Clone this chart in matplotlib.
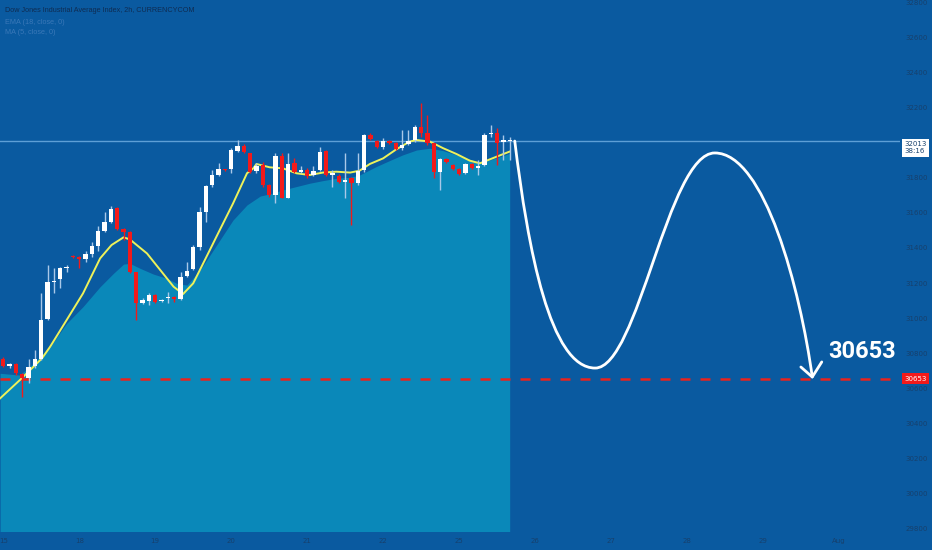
import matplotlib
matplotlib.use("Agg")
import matplotlib.pyplot as plt
from matplotlib.path import Path
from matplotlib.patches import PathPatch
import matplotlib.transforms as mtransforms
import numpy as np

# 2h candles (open, high, low, close)
opens = [30763, 30727, 30737, 30680, 30659, 30725, 30764, 30992, 31205, 31221,
         31288, 31354, 31347, 31335, 31364, 31411, 31497, 31550, 31627, 31508,
         31493, 31261, 31087, 31097, 31131, 31097, 31112, 31122, 31108, 31240,
         31278, 31404, 31608, 31760, 31817, 31849, 31849, 31957, 31985, 31941,
         31840, 31874, 31760, 31703, 31926, 31688, 31884, 31836, 31846, 31817,
         31846, 31956, 31815, 31813, 31779, 31798, 31770, 31846, 32046, 32013,
         31975, 32013, 32002, 31970, 31994, 32017, 32090, 32059, 31998, 31836,
         31909, 31874, 31850, 31827, 31880, 31855, 31874, 32049, 32055, 32008,
         32010]
highs = [30779, 30745, 30745, 30687, 30764, 30817, 31141, 31303, 31284, 31293,
         31303, 31360, 31354, 31385, 31436, 31526, 31608, 31640, 31632, 31512,
         31497, 31265, 31112, 31141, 31137, 31108, 31147, 31127, 31265, 31322,
         31417, 31636, 31760, 31846, 31884, 31853, 31970, 32017, 31994, 31945,
         31884, 31893, 31766, 31941, 31941, 31945, 31912, 31869, 31855, 31869,
         31975, 31960, 31846, 31823, 31941, 31808, 31941, 32052, 32055, 32017,
         32027, 32017, 32008, 32074, 32074, 32103, 32227, 32160, 32002, 31913,
         31913, 31880, 31855, 31884, 31888, 31903, 32055, 32103, 32084, 32046,
         32036]
lows = [30718, 30712, 30674, 30550, 30626, 30712, 30760, 30988, 31141, 31169,
        31265, 31341, 31284, 31322, 31350, 31385, 31493, 31541, 31503, 31446,
        31255, 30988, 31080, 31074, 31084, 31091, 31084, 31093, 31103, 31232,
        31274, 31389, 31550, 31750, 31811, 31842, 31827, 31950, 31941, 31830,
        31827, 31750, 31693, 31659, 31684, 31684, 31827, 31831, 31798, 31812,
        31842, 31812, 31751, 31770, 31684, 31532, 31760, 31836, 32017, 31970,
        31964, 31992, 31960, 31960, 31989, 32008, 32036, 31989, 31798, 31732,
        31888, 31846, 31817, 31823, 31850, 31817, 31869, 32036, 31874, 31903,
        31903]
closes = [30725, 30737, 30684, 30655, 30718, 30764, 30988, 31204, 31211, 31286,
          31293, 31347, 31339, 31364, 31411, 31497, 31550, 31621, 31507, 31493,
          31261, 31084, 31103, 31131, 31091, 31103, 31122, 31108, 31236, 31270,
          31407, 31608, 31756, 31817, 31849, 31846, 31960, 31983, 31947, 31836,
          31868, 31760, 31703, 31926, 31688, 31880, 31836, 31846, 31812, 31842,
          31951, 31817, 31827, 31775, 31789, 31770, 31840, 32046, 32021, 31975,
          32013, 31998, 31964, 31989, 32013, 32090, 32055, 31998, 31836, 31907,
          31893, 31850, 31823, 31880, 31855, 31869, 32046, 32055, 31998, 32017,
          32013]

# yellow EMA line (bar position, price)
ema_x = [-0.5, 2.9, 6.1, 7.4, 10.0, 12.6, 15.3, 17.1, 19.0, 20.0, 22.7, 24.8,
         26.9, 28.4, 30.0, 32.1, 34.2, 36.3, 38.5, 39.5, 40.0, 42.1, 44.2, 46.3,
         48.4, 50.5, 52.6, 54.8, 56.3, 57.9, 60.0, 62.1, 64.2, 65.3, 67.4, 69.5,
         71.6, 73.7, 75.3, 76.9, 79.0, 80.0]
ema_y = [30541, 30655, 30769, 30836, 30988, 31141, 31341, 31417, 31461, 31449,
         31369, 31274, 31179, 31137, 31198, 31350, 31503, 31655, 31827, 31855,
         31880, 31861, 31855, 31827, 31817, 31831, 31836, 31831, 31842, 31880,
         31912, 31964, 32008, 32017, 32008, 31970, 31937, 31899, 31884, 31907,
         31937, 31951]

# light area (MA) top edge
area_x = [-0.5, 2.6, 4.7, 7.4, 10.0, 12.6, 15.3, 17.4, 19.0, 20.0, 21.6, 23.7,
          25.8, 27.4, 29.0, 31.1, 33.7, 36.3, 38.5, 40.6, 42.1, 44.2, 46.3, 48.4,
          50.5, 52.6, 54.8, 56.3, 58.9, 61.0, 63.1, 65.3, 67.4, 69.5, 71.6, 73.7,
          75.3, 76.9, 79.0, 80.0]
area_y = [30684, 30674, 30741, 30836, 30969, 31065, 31179, 31255, 31308, 31312,
          31284, 31251, 31227, 31198, 31188, 31274, 31417, 31560, 31646, 31697,
          31709, 31732, 31751, 31770, 31785, 31798, 31804, 31817, 31865, 31899,
          31932, 31960, 31970, 31956, 31932, 31907, 31888, 31903, 31928, 31941]

day_ticks = [0, 12, 24, 36, 48, 60, 72, 84, 96, 108, 120, 132]
day_labels = ["15", "18", "19", "20", "21", "22", "25", "26", "27", "28", "29", "Aug"]
price_ticks = list(range(29800, 32801, 200))

last_price = 32013
target = 30653

# hand-drawn forecast curve: bezier points (bar, price)
wave_pts = [(80.8, 32011), (82.9, 31389), (86.4, 30714), (93.5, 30714),
            (100.3, 30714), (105.0, 31943), (112.4, 31943),
            (120.3, 31943), (125.9, 31160), (127.8, 30663)]
arrow_barbs = [(126.0, 30720), (127.8, 30663), (129.3, 30749)]

bg = "#0a5aa0"
fill_col = "#0a88b9"
tick_col = "#17406c"

fig = plt.figure(figsize=(9.32, 5.5), dpi=100, facecolor=bg)
ax = fig.add_axes([0, 19 / 550, 900 / 932, 531 / 550])
ax.set_facecolor(bg)
ax.set_xlim(-0.52, 141.66)
ax.set_ylim(29783, 32817)

ax.fill_between(area_x, area_y, 29000, color=fill_col, lw=0, zorder=1)
ax.plot(ema_x, ema_y, color="#eef25a", lw=1.4, zorder=3)

ax.axhline(last_price, color="#5e9fd6", lw=1, zorder=2)
ax.axhline(target, color="#e8231e", lw=1.8, dashes=(4, 4), zorder=2)

x = np.arange(len(opens))
o = np.array(opens)
c = np.array(closes)
up = c >= o
body_lo = np.minimum(o, c)
body_h = np.maximum(np.abs(c - o), 6)
ax.vlines(x[up], np.array(lows)[up], np.array(highs)[up], color="#a9c8e8", lw=1, zorder=4)
ax.vlines(x[~up], np.array(lows)[~up], np.array(highs)[~up], color="#f21a1a", lw=1, zorder=4)
ax.bar(x[up], body_h[up], bottom=body_lo[up], width=0.68, color="white", lw=0, zorder=5)
ax.bar(x[~up], body_h[~up], bottom=body_lo[~up], width=0.68, color="#f21a1a", lw=0, zorder=5)

codes = [Path.MOVETO] + [Path.CURVE4] * (len(wave_pts) - 1)
ax.add_patch(PathPatch(Path(wave_pts, codes), fill=False, ec="white", lw=2, zorder=6,
                       capstyle="round"))
bx, by = zip(*arrow_barbs)
ax.plot(bx, by, color="white", lw=2, solid_capstyle="round", solid_joinstyle="round", zorder=6)
ax.text(135.6, 30806, "30653", color="white", fontsize=17, fontweight="bold",
        family=["Roboto", "DejaVu Sans"], ha="center", va="center", zorder=7)

for s in ax.spines.values():
    s.set_visible(False)
ax.yaxis.tick_right()
ax.set_yticks(price_ticks)
# 32000 sits under the last-price box, so it is not shown
ax.set_yticklabels(["" if p == 32000 else str(p) for p in price_ticks])
ax.set_xticks(day_ticks)
ax.set_xticklabels(day_labels)
ax.tick_params(axis="y", length=0, pad=4, labelsize=5, labelcolor=tick_col)
ax.tick_params(axis="x", length=0, pad=5, labelsize=5, labelcolor=tick_col)

trans = mtransforms.blended_transform_factory(ax.transAxes, ax.transData)
ax.text(1.0045, target, str(target), transform=trans, fontsize=5, color="white",
        ha="left", va="center", zorder=8, clip_on=False,
        bbox=dict(boxstyle="square,pad=0.35", fc="#f21a1a", ec="none"))
ax.text(1.0045, last_price - 40, "32013\n38:16", transform=trans, fontsize=5,
        color="#17406c", ha="left", va="center", zorder=8, clip_on=False, linespacing=1.2,
        bbox=dict(boxstyle="square,pad=0.35", fc="white", ec="none"))

fig.text(5 / 932, 1 - 10 / 550, "Dow Jones Industrial Average Index, 2h, CURRENCYCOM",
         fontsize=5.2, color="#0f2c52", family="Liberation Sans", va="center")
fig.text(5 / 932, 1 - 22 / 550, "EMA (18, close, 0)", fontsize=5.2, color="#3a78b8",
         family="Liberation Sans", va="center")
fig.text(5 / 932, 1 - 33 / 550, "MA (5, close, 0)", fontsize=5.2, color="#3a78b8",
         family="Liberation Sans", va="center")

fig.savefig("out.png", dpi=100, facecolor=bg)
